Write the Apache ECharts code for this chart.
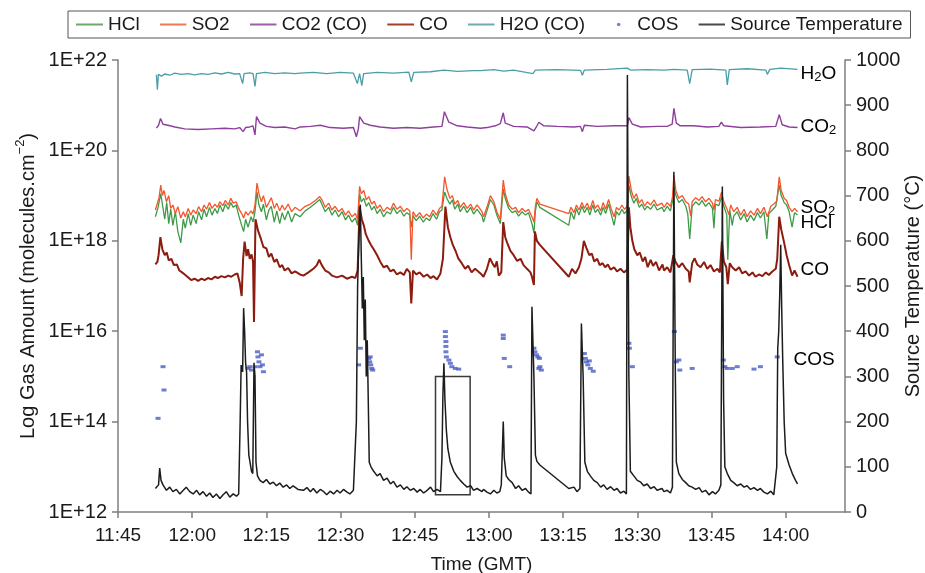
<!DOCTYPE html>
<html><head><meta charset="utf-8">
<script src="https://cdn.jsdelivr.net/npm/echarts@6/dist/echarts.min.js"></script>
<style>html,body{margin:0;padding:0;background:#fff}#c{width:925px;height:573px}</style>
</head><body><div id="c"></div>
<script>
// time = minutes after 11:45 (GMT)
const xTickLabels = ['11:45','12:00','12:15','12:30','12:45','13:00','13:15','13:30','13:45','14:00'];
const leftTickValues = [1e12, 1e14, 1e16, 1e18, 1e20, 1e22];

const h2o = [
[7.76,4.7e21],[7.96,2.2e21],[8.17,4.8e21],[8.77,4.4e21],[9.45,4.9e21],[10.46,4.6e21],[11.47,5.1e21],[12.82,4.8e21],[14.17,5.0e21],[15.5,4.7e21],[16.9,5.0e21],[18.2,4.8e21],[19.6,5.2e21],[20.9,4.9e21],[22.3,5.3e21],[23.6,4.9e21],[24.6,5.0e21],[25.2,3.0e21],[25.5,5.0e21],[26.65,5.2e21],[27.3,5.0e21],[27.7,2.6e21],[28.0,5.0e21],[29.7,5.3e21],[31.7,5.0e21],[33.7,5.2e21],[35.8,5.0e21],
[36.84,5.1e21],[39.5,5.3e21],[42.2,5.0e21],[44.9,5.3e21],[47.6,5.1e21],[48.4,3.0e21],[48.85,5.0e21],[49.3,2.7e21],[49.66,5.0e21],[52.4,5.3e21],[55.7,5.1e21],[58.8,5.4e21],[59.3,3.3e21],[59.8,5.3e21],[63.2,5.5e21],[65.9,6.0e21],[68.6,5.6e21],[71.9,5.8e21],
[73.27,5.8e21],[76.0,6.1e21],[78.0,5.7e21],[80.0,6.0e21],[83.9,5.0e21],[84.4,6.0e21],[88.8,6.1e21],[93.5,5.9e21],[93.9,4.6e21],[94.3,6.0e21],[98.9,6.2e21],[103.0,6.6e21],[103.6,6.0e21],[107.0,6.1e21],[110.4,6.0e21],
[112.4,6.2e21],[115.1,6.0e21],[115.6,3.0e21],[116.1,6.1e21],[119.8,6.3e21],[122.9,6.0e21],[123.2,2.8e21],[123.6,6.1e21],[127.2,6.4e21],[131.0,6.0e21],[131.3,4.8e21],[131.8,6.2e21],[134.0,6.6e21],[137.4,6.2e21]
];

const co2 = [
[7.76,3.1e20],[8.2,3.6e20],[8.6,5.1e20],[9.1,3.8e20],[10.1,3.6e20],[11.5,3.3e20],[13.5,3.0e20],[16.2,2.9e20],[18.9,3.0e20],[21.6,3.1e20],[23.6,3.0e20],[24.6,3.2e20],[25.3,2.6e20],[25.8,3.2e20],[26.65,3.3e20],[27.3,3.5e20],[27.7,2.2e20],[28.0,5.6e20],[28.7,4.0e20],[30.0,3.4e20],[31.7,3.2e20],[33.7,3.3e20],[35.8,3.0e20],
[36.84,3.3e20],[38.9,3.4e20],[40.9,3.6e20],[42.9,3.2e20],[45.6,3.1e20],[47.6,3.2e20],[48.2,2.0e20],[48.6,3.0e20],[48.85,5.6e20],[49.7,4.0e20],[51.0,3.6e20],[53.0,3.3e20],[55.7,3.1e20],[58.4,3.2e20],[61.1,3.1e20],[63.8,3.3e20],[65.5,3.4e20],[66.0,7.2e20],[66.9,4.2e20],[68.6,3.5e20],[70.6,3.3e20],[73.3,3.1e20],
[74.6,3.2e20],[76.3,3.5e20],[77.3,3.9e20],[77.9,6.8e20],[78.3,4.0e20],[80.0,3.4e20],[82.7,3.3e20],[84.1,2.7e20],[84.6,3.3e20],[85.1,4.2e20],[86.1,3.5e20],[88.8,3.4e20],[92.2,3.3e20],[93.5,3.4e20],[93.9,2.6e20],[94.3,3.6e20],[96.9,3.4e20],[100.3,3.5e20],[103.0,3.5e20],[103.3,5.3e20],[104.0,3.8e20],[105.7,3.3e20],[109.0,3.4e20],
[111.05,3.4e20],[112.06,3.8e20],[112.4,8.5e20],[112.9,4.0e20],[113.7,3.5e20],[116.4,3.5e20],[119.15,3.3e20],[121.5,3.4e20],[122.0,4.2e20],[122.5,3.5e20],[125.9,3.2e20],[129.9,3.3e20],[133.0,3.4e20],[133.7,6.2e20],[134.3,3.7e20],[135.7,3.3e20],[137.4,3.2e20]
];

const so2 = [
[7.56,4.8e18],[7.96,5.2e18],[8.3,9e18],[8.64,1.7e19],[8.97,1.0e19],[9.3,1.3e19],[9.8,7.3e18],[10.26,1.0e19],[10.66,5.2e18],[11.1,6.2e18],[11.6,4.0e18],[12.1,5.7e18],[12.7,3.2e18],[13.2,4.4e18],[13.6,3.4e18],[14.2,5.2e18],[14.7,3.7e18],[15.2,4.8e18],[15.8,4.0e18],[16.3,5.7e18],[16.9,4.4e18],[17.4,6.2e18],[17.9,5.0e18],[18.5,7.0e18],[19.0,5.2e18],[19.6,6.5e18],[20.1,5.5e18],[20.6,7.3e18],[21.2,6.0e18],[21.7,7.8e18],[22.3,6.2e18],[22.8,8.7e18],[23.3,6.8e18],[23.9,7.3e18],[24.4,5.2e18],[25.0,4.0e18],[25.4,3.2e18],[25.8,4.4e18],[26.3,3.7e18],[26.9,4.6e18],[27.3,3.9e18],[27.7,6.2e18],[28.1,1.9e19],[28.5,1.1e19],[29.0,7.3e18],[29.4,1.0e19],[30.0,5.5e18],[30.5,7.0e18],[31.0,9.0e18],[31.6,5.2e18],[32.1,6.8e18],[32.7,4.6e18],[33.2,6.2e18],[33.7,4.8e18],[34.4,6.5e18],[35.1,4.4e18],[35.8,5.5e18],[36.8,4.6e18],
[37.85,5.8e18],[38.9,6.5e18],[39.9,7.8e18],[40.8,9.5e18],[41.2,8.2e18],[41.9,5.5e18],[42.6,6.8e18],[43.25,4.8e18],[43.9,5.8e18],[44.6,4.4e18],[45.3,5.2e18],[46.0,3.7e18],[46.6,4.6e18],[47.3,3.4e18],[48.0,4.0e18],[48.45,3.0e18],[48.85,1.6e19],[49.2,1.1e19],[49.7,1.3e19],[50.2,8.0e18],[50.7,9.5e18],[51.3,6.5e18],[51.8,7.5e18],[52.4,5.2e18],[53.0,6.2e18],[53.7,4.4e18],[54.4,5.5e18],[55.1,4.8e18],[55.7,6.8e18],[56.4,5.0e18],[57.1,5.8e18],[57.8,4.4e18],[58.4,5.2e18],[59.0,4.6e18],[59.3,3.8e17],[59.65,4.4e18],[60.3,3.4e18],[61.0,4.2e18],[61.7,3.2e18],[62.35,3.9e18],[63.0,3.4e18],[63.7,4.8e18],[64.4,3.7e18],[65.0,5.2e18],[65.5,5.8e18],[66.05,2.6e19],[66.5,1.4e19],[67.1,8.7e18],[67.6,1.0e19],[68.1,6.5e18],[68.7,7.8e18],[69.2,5.5e18],[69.9,7.0e18],[70.6,5.2e18],[71.3,6.5e18],[71.9,4.8e18],[72.6,6.2e18],[73.6,4.4e18],
[73.9,3.4e18],[74.6,5.5e18],[75.3,1.0e19],[76.0,7.3e18],[76.6,4.4e18],[77.3,3.0e18],[77.9,2.2e19],[78.3,1.1e19],[79.0,6.2e18],[79.7,5.0e18],[80.4,5.5e18],[81.0,4.2e18],[81.7,5.2e18],[82.4,4.4e18],[83.0,5.0e18],[83.7,3.4e18],[84.1,2.6e18],[84.4,5.8e18],[84.7,8.7e18],[85.3,6.5e18],[91.15,4.0e18],[91.6,5.5e18],[92.2,4.2e18],[92.7,6.2e18],[93.2,4.8e18],[93.8,7.0e18],[94.3,5.2e18],[94.9,6.8e18],[95.4,4.8e18],[96.0,7.8e18],[96.5,5.2e18],[97.0,6.2e18],[97.6,4.6e18],[98.1,7.0e18],[98.6,5.0e18],[99.2,8.2e18],[99.7,5.2e18],[100.3,3.4e18],[100.8,5.5e18],[101.3,4.8e18],[101.9,6.2e18],[102.4,5.0e18],[103.0,5.8e18],[103.3,2.7e19],[103.8,1.3e19],[104.3,8.7e18],[104.8,1.1e19],[105.4,6.8e18],[105.9,8.2e18],[106.5,5.8e18],[107.0,7.3e18],[107.7,6.2e18],[108.4,8.0e18],[109.0,6.0e18],[110.0,6.8e18],
[110.4,5.5e18],[111.05,7.0e18],[111.7,5.8e18],[112.1,9.0e18],[112.4,2.8e19],[112.8,1.3e19],[113.4,8.7e18],[114.1,1.0e19],[114.8,7.3e18],[115.4,6.5e18],[115.8,3.5e18],[116.1,7.3e18],[116.8,9.0e18],[117.5,7.8e18],[118.1,9.5e18],[118.8,7.3e18],[119.5,8.7e18],[120.2,6.8e18],[120.5,4.8e18],[120.8,8.2e18],[121.5,7.5e18],[122.05,1.2e19],[122.5,7.3e18],[123.1,5.2e18],[123.5,3.8e18],[123.9,6.2e18],[124.5,4.4e18],[125.2,5.5e18],[125.9,3.7e18],[126.6,5.0e18],[127.2,3.4e18],[127.9,4.6e18],[128.6,3.7e18],[129.3,5.2e18],[129.9,4.0e18],[130.6,5.5e18],[131.3,3.4e18],[132.0,5.8e18],[132.6,6.5e18],[133.2,7.5e18],[133.7,2.6e19],[134.1,1.3e19],[134.7,8.7e18],[135.2,7.8e18],[135.7,5.5e18],[136.3,4.4e18],[136.8,5.2e18],[137.4,4.4e18]
];

const hcl = [
[7.56,3.4e18],[8.1,5.5e18],[8.64,1.1e19],[9.0,6.2e18],[9.45,3.0e18],[9.85,7.0e18],[10.26,2.4e18],[10.66,5.0e18],[11.1,2.2e18],[11.6,4.4e18],[12.1,1.6e18],[12.7,9e17],[13.2,3.0e18],[13.6,1.9e18],[14.2,4.0e18],[14.7,2.2e18],[15.2,3.7e18],[15.8,2.4e18],[16.3,4.4e18],[16.9,2.9e18],[17.4,5.0e18],[17.9,3.4e18],[18.5,5.5e18],[19.0,3.7e18],[19.6,5.2e18],[20.1,4.0e18],[20.6,6.2e18],[21.2,4.4e18],[21.7,6.5e18],[22.3,5.0e18],[22.8,7.0e18],[23.3,5.5e18],[23.9,6.2e18],[24.4,3.7e18],[25.0,2.2e18],[25.4,1.6e18],[25.8,3.0e18],[26.3,2.0e18],[26.9,3.4e18],[27.3,2.6e18],[27.7,4.4e18],[28.1,1.2e19],[28.5,6.2e18],[29.0,4.4e18],[29.4,6.5e18],[30.0,2.9e18],[30.5,4.8e18],[31.0,5.8e18],[31.6,2.6e18],[32.1,4.6e18],[32.7,2.4e18],[33.2,4.2e18],[33.7,2.9e18],[34.4,4.6e18],[35.1,2.6e18],[35.8,4.0e18],[36.8,3.4e18],
[37.85,4.6e18],[38.9,5.5e18],[39.9,6.8e18],[40.8,8.2e18],[41.2,6.5e18],[41.9,4.4e18],[42.6,5.5e18],[43.25,3.7e18],[43.9,4.8e18],[44.6,3.4e18],[45.3,4.4e18],[46.0,2.9e18],[46.6,3.7e18],[47.3,2.6e18],[48.0,3.2e18],[48.45,2.2e18],[48.85,1.1e19],[49.2,7.3e18],[49.7,8.7e18],[50.2,5.8e18],[50.7,7.0e18],[51.3,4.8e18],[51.8,5.8e18],[52.4,4.0e18],[53.0,5.0e18],[53.7,3.4e18],[54.4,4.4e18],[55.1,3.9e18],[55.7,5.5e18],[56.4,4.0e18],[57.1,4.8e18],[57.8,3.5e18],[58.4,4.2e18],[59.0,3.7e18],[59.3,2.0e18],[59.65,3.6e18],[60.3,2.8e18],[61.0,3.5e18],[61.7,2.6e18],[62.35,3.2e18],[63.0,2.8e18],[63.7,4.0e18],[64.4,3.0e18],[65.0,4.4e18],[65.5,4.8e18],[66.05,1.2e19],[66.5,8.7e18],[67.1,6.5e18],[67.6,8.0e18],[68.1,5.0e18],[68.7,6.5e18],[69.2,4.4e18],[69.9,5.8e18],[70.6,4.2e18],[71.3,5.5e18],[71.9,3.9e18],[72.6,5.0e18],[73.6,3.5e18],
[73.9,2.6e18],[74.6,4.6e18],[75.3,8.2e18],[76.0,6.2e18],[76.6,3.7e18],[77.3,2.4e18],[77.9,1.4e19],[78.3,8.7e18],[79.0,5.2e18],[79.7,4.2e18],[80.4,4.6e18],[81.0,3.5e18],[81.7,4.4e18],[82.4,3.7e18],[83.0,4.2e18],[83.7,2.4e18],[84.1,1.5e18],[84.4,4.6e18],[84.7,7.3e18],[85.3,5.5e18],[91.15,2.2e18],[91.6,4.4e18],[92.2,3.0e18],[92.7,5.2e18],[93.2,3.7e18],[93.8,5.8e18],[94.3,4.2e18],[94.9,5.5e18],[95.4,3.7e18],[96.0,6.2e18],[96.5,4.2e18],[97.0,5.0e18],[97.6,3.7e18],[98.1,5.5e18],[98.6,4.0e18],[99.2,6.5e18],[99.7,4.0e18],[100.3,2.2e18],[100.8,4.4e18],[101.3,3.7e18],[101.9,5.0e18],[102.4,4.0e18],[103.0,4.8e18],[103.3,1.7e19],[103.8,9.5e18],[104.3,6.8e18],[104.8,8.7e18],[105.4,5.5e18],[105.9,6.5e18],[106.5,4.8e18],[107.0,5.8e18],[107.7,5.0e18],[108.4,6.5e18],[109.0,4.8e18],[110.0,5.5e18],
[110.4,4.4e18],[111.05,5.8e18],[111.7,4.6e18],[112.1,7.3e18],[112.4,1.6e19],[112.8,1.0e19],[113.4,7.0e18],[114.1,8.2e18],[114.8,5.8e18],[115.2,4.0e18],[115.6,1.1e18],[116.1,5.8e18],[116.8,7.3e18],[117.5,6.2e18],[118.1,7.8e18],[118.8,5.8e18],[119.5,7.0e18],[120.2,5.2e18],[120.5,1.9e18],[120.8,6.5e18],[121.5,6.0e18],[122.05,9.5e18],[122.5,5.8e18],[123.1,3.7e18],[123.3,3.8e17],[123.7,4.8e18],[124.2,2.2e18],[124.5,3.5e18],[125.2,4.4e18],[125.9,2.9e18],[126.6,4.0e18],[127.2,2.6e18],[127.9,3.7e18],[128.6,2.8e18],[129.3,4.2e18],[129.9,3.2e18],[130.6,4.4e18],[131.2,1.1e18],[131.6,4.0e18],[132.3,4.8e18],[133.0,5.8e18],[133.7,1.7e19],[134.1,1.0e19],[134.7,7.0e18],[135.2,6.2e18],[135.7,4.4e18],[136.3,2.0e18],[136.8,4.2e18],[137.4,3.7e18]
];

const co = [
[7.56,3.0e17],[7.96,3.4e17],[8.2,4.8e17],[8.57,1.2e18],[8.97,6.5e17],[9.45,4.8e17],[9.85,5.5e17],[10.26,3.7e17],[10.8,4.0e17],[11.3,2.9e17],[11.9,3.0e17],[12.4,2.2e17],[12.95,2.0e17],[13.5,1.8e17],[14.2,1.55e17],[14.8,1.35e17],[15.5,1.45e17],[16.2,1.3e17],[16.9,1.45e17],[17.5,1.35e17],[18.2,1.5e17],[18.9,1.4e17],[19.6,1.6e17],[20.2,1.5e17],[20.9,1.65e17],[21.6,1.55e17],[22.3,1.7e17],[22.9,1.6e17],[23.6,1.8e17],[24.15,1.9e17],[24.6,1.2e17],[25.0,6.0e16],[25.3,4.0e17],[25.6,9.6e17],[26.0,4.6e17],[26.3,6.5e17],[26.65,4.0e17],[27.0,5.0e17],[27.3,3.5e17],[27.5,1.6e16],[27.8,3.0e18],[28.3,1.7e18],[28.9,1.1e18],[29.4,7.3e17],[30.0,6.8e17],[30.5,4.4e17],[31.0,5.2e17],[31.6,3.4e17],[32.1,3.9e17],[32.7,2.6e17],[33.2,2.9e17],[33.7,2.2e17],[34.4,2.5e17],[35.1,1.9e17],[35.8,2.1e17],[36.8,1.8e17],
[37.5,1.7e17],[38.5,2.0e17],[39.5,2.4e17],[40.2,2.9e17],[40.7,3.8e17],[41.2,2.9e17],[41.9,2.2e17],[42.6,2.0e17],[43.25,1.7e17],[44.3,1.55e17],[45.3,1.7e17],[46.3,1.45e17],[47.3,1.6e17],[48.0,1.5e17],[48.45,2.2e17],[48.85,5.7e18],[49.3,3.0e18],[49.7,2.2e18],[50.1,1.4e18],[50.7,1.0e18],[51.15,8.1e17],[51.7,6.5e17],[52.4,4.8e17],[53.0,3.5e17],[53.7,2.6e17],[54.4,2.8e17],[55.1,2.1e17],[55.7,2.3e17],[56.4,1.8e17],[57.1,2.0e17],[57.8,1.75e17],[58.4,2.4e17],[59.0,2.0e17],[59.3,4.1e16],[59.65,2.2e17],[60.3,1.8e17],[61.0,2.0e17],[61.8,1.6e17],[62.5,1.8e17],[63.2,1.5e17],[63.8,1.65e17],[64.5,1.4e17],[65.2,1.9e17],[65.7,4.0e17],[66.2,5.7e18],[66.7,2.0e18],[67.2,1.2e18],[67.7,8.1e17],[68.3,5.8e17],[68.8,4.1e17],[69.5,3.2e17],[70.2,2.4e17],[70.8,2.8e17],[71.5,2.0e17],[72.2,2.4e17],[73.3,1.9e17],
[73.9,1.6e17],[74.6,2.4e17],[75.2,4.1e17],[75.7,3.2e17],[76.2,2.6e17],[76.6,3.5e17],[77.0,1.7e17],[77.5,2.0e17],[77.9,2.6e18],[78.3,1.2e18],[78.7,9.0e17],[79.35,6.0e17],[80.0,4.8e17],[80.7,3.6e17],[81.4,4.0e17],[82.0,2.9e17],[82.7,2.4e17],[83.4,2.0e17],[83.7,1.6e17],[84.1,1.05e17],[84.3,1.6e18],[84.7,1.0e18],[85.3,8.1e17],[91.15,1.6e17],[91.35,1.5e17],[91.8,2.4e17],[92.5,1.9e17],[93.2,2.6e17],[93.7,4.0e17],[94.2,1.0e18],[94.7,7.0e17],[95.3,4.8e17],[95.8,5.2e17],[96.3,3.5e17],[96.9,4.0e17],[97.4,2.9e17],[98.0,3.2e17],[98.5,2.6e17],[99.05,3.0e17],[99.6,2.3e17],[100.3,2.6e17],[100.9,2.1e17],[101.6,2.4e17],[102.3,2.0e17],[103.0,2.3e17],[103.3,5.5e18],[103.6,2.0e18],[104.0,1.0e18],[104.4,6.5e17],[105.0,4.8e17],[105.5,5.5e17],[106.1,3.5e17],[106.6,4.4e17],[107.1,2.6e17],[107.7,3.8e17],[108.2,2.8e17],[108.8,3.4e17],[109.4,2.2e17],[110.1,3.0e17],
[110.4,2.2e17],[111.05,2.6e17],[111.7,2.0e17],[112.3,4.8e17],[112.7,3.5e17],[113.4,2.6e17],[114.1,3.2e17],[114.8,2.4e17],[115.4,2.1e17],[115.6,1.2e17],[116.1,3.2e17],[116.6,4.1e17],[117.1,3.0e17],[117.8,2.6e17],[118.5,3.4e17],[119.15,2.4e17],[119.8,2.9e17],[120.5,2.1e17],[121.2,2.4e17],[121.7,2.0e17],[122.1,9.6e17],[122.5,3.5e17],[123.0,2.6e17],[123.3,1.1e17],[123.7,3.2e17],[124.2,2.6e17],[124.9,2.2e17],[125.6,2.6e17],[126.2,1.9e17],[126.9,2.1e17],[127.6,1.7e17],[128.3,2.0e17],[128.9,1.6e17],[129.6,1.8e17],[130.3,1.65e17],[131.0,2.0e17],[131.6,1.75e17],[132.3,2.1e17],[133.0,2.4e17],[133.3,4.0e17],[133.7,3.4e18],[134.1,1.8e18],[134.7,9.0e17],[135.2,4.8e17],[135.7,2.9e17],[136.3,1.7e17],[136.8,2.2e17],[137.4,1.6e17]
];

const temperature = [
[7.56,52],[7.96,48],[8.2,60],[8.43,97],[8.7,70],[9.1,60],[9.8,48],[10.46,55],[11.1,45],[11.8,50],[12.5,40],[13.2,48],[13.8,55],[14.5,45],[15.2,40],[15.9,48],[16.5,38],[17.2,45],[17.9,35],[18.55,42],[19.2,32],[19.9,40],[20.6,30],[21.25,38],[21.9,45],[22.6,33],[23.3,40],[23.95,35],[24.4,40],[24.7,200],[24.9,325],[25.2,310],[25.4,451],[25.6,400],[25.8,330],[26.0,310],[26.2,200],[26.45,126],[26.7,110],[27.0,90],[27.25,85],[27.5,330],[27.7,300],[27.9,110],[28.2,80],[28.7,70],[29.35,65],[30.0,72],[30.7,62],[31.4,66],[32.05,58],[32.7,64],[33.4,55],[34.1,60],[34.75,52],[35.4,58],[36.4,50],
[37.5,48],[38.2,54],[38.9,45],[39.5,52],[40.2,42],[40.9,50],[41.6,45],[42.2,38],[42.9,46],[43.6,40],[44.3,48],[44.9,42],[45.6,50],[46.3,44],[46.9,40],[47.6,48],[48.0,45],[48.2,200],[48.45,500],[48.7,600],[49.0,680],[49.2,560],[49.4,450],[49.6,520],[49.8,380],[50.0,470],[50.2,300],[50.4,380],[50.6,250],[50.8,110],[51.15,100],[51.7,90],[52.4,80],[53.0,85],[53.7,70],[54.4,75],[55.1,62],[55.7,68],[56.4,55],[57.1,60],[57.8,50],[58.4,56],[59.1,48],[59.8,52],[60.5,44],[61.1,50],[61.8,42],[62.5,48],[63.2,55],[63.8,45],[64.5,50],[65.2,45],[65.5,120],[65.7,260],[65.9,329],[66.1,250],[66.4,180],[66.7,140],[67.2,110],[67.9,90],[68.6,78],[69.2,70],[69.9,62],[70.6,55],[71.3,58],[71.9,48],[72.6,52],[73.6,45],
[73.9,50],[74.6,44],[75.3,40],[76.0,48],[76.6,42],[77.2,45],[77.5,60],[77.9,200],[78.1,120],[78.5,80],[79.0,72],[79.7,65],[80.4,52],[81.0,58],[81.7,48],[82.4,52],[83.0,44],[83.5,40],[83.7,454],[84.1,300],[84.4,126],[84.7,112],[85.3,104],[91.15,52],[91.5,48],[92.2,55],[92.8,45],[93.4,52],[93.7,417],[94.05,300],[94.4,110],[94.9,90],[95.5,80],[96.2,70],[96.9,65],[97.6,55],[98.2,60],[98.9,50],[99.6,56],[100.3,48],[100.9,52],[101.6,42],[102.3,46],[102.8,40],[103.0,967],[103.3,300],[103.6,90],[104.3,80],[105.0,70],[105.7,66],[106.3,58],[107.0,62],[107.7,52],[108.4,56],[109.0,48],[110.0,52],
[110.4,45],[111.05,48],[111.7,42],[112.1,55],[112.4,753],[112.7,300],[112.9,110],[113.4,85],[114.1,72],[114.8,65],[115.4,58],[116.1,55],[116.8,50],[117.5,54],[118.1,44],[118.8,48],[119.5,38],[120.2,45],[120.8,40],[121.5,48],[121.9,60],[122.2,720],[122.45,250],[122.7,100],[123.2,85],[123.9,70],[124.5,65],[125.2,58],[125.9,62],[126.6,55],[127.2,58],[127.9,50],[128.6,54],[129.3,48],[129.9,52],[130.6,44],[131.3,40],[132.0,46],[132.6,38],[133.0,35],[133.2,100],[133.4,362],[133.6,400],[133.8,480],[134.0,591],[134.2,450],[134.4,340],[134.7,200],[135.0,130],[135.7,104],[136.35,85],[137.0,70],[137.4,62]
];

const cos = [
[8.1,1.18e14],[9.1,1.64e15],[9.3,5.0e14],
[26.3,1.5e15],[26.65,1.64e15],[27.0,1.38e15],[27.7,1.64e15],[28.2,3.5e15],[28.3,2.7e15],[28.5,2.1e15],[28.7,1.64e15],[29.0,3.0e15],[29.2,1.8e15],[29.4,1.27e15],
[48.65,1.8e15],[49.0,4.2e15],[50.7,2.5e15],[50.9,2.1e15],[51.0,2.7e15],[51.1,1.8e15],[51.3,1.5e15],[51.5,1.38e15],
[66.2,9.8e15],[66.2,7.6e15],[66.3,5.9e15],[66.3,4.6e15],[66.3,3.5e15],[66.4,2.7e15],[66.9,2.3e15],[67.2,1.95e15],[67.5,1.64e15],[68.2,1.5e15],[68.9,1.45e15],
[77.9,8.2e15],[77.9,6.9e15],[78.1,2.5e15],[79.2,1.64e15],
[84.1,4.2e15],[84.3,3.5e15],[84.6,3.0e15],[84.9,2.7e15],[85.2,2.5e15],[85.1,1.5e15],[85.3,1.64e15],[85.6,1.38e15],
[94.3,3.2e15],[94.5,2.5e15],[94.7,2.1e15],[95.0,1.8e15],[95.3,2.2e15],[95.5,1.5e15],[96.1,1.3e15],
[103.3,5.4e15],[103.4,4.2e15],[104.0,1.64e15],
[112.5,9.8e15],[112.9,2.1e15],[113.4,2.3e15],[113.6,1.38e15],[116.1,1.5e15],
[122.4,2.3e15],[122.7,1.64e15],[123.2,1.5e15],[124.2,1.5e15],[125.2,1.64e15],[128.6,1.45e15],[129.9,1.64e15],[133.3,2.7e15]
];

// highlighted region (box) on the temperature axis
const boxTimes = [64.2, 71.2];
const boxTemps = [38, 300];

// right-side species labels: [rich text, time, gas amount]
const speciesLabels = [
  ['{n|H}{s|2}{n|O}', 138.0, 4.9e21],
  ['{n|CO}{s|2}', 138.0, 3.3e20],
  ['{n|SO}{s|2}', 138.0, 5.3e18],
  ['{n|HCl}', 138.0, 2.5e18],
  ['{n|CO}', 138.0, 2.3e17],
  ['{n|COS}', 136.6, 2.3e15]
];

const FONT = '"Liberation Sans", Arial, Helvetica, sans-serif';
const AXIS_COLOR = '#7f7f7f';
const TEXT_COLOR = '#1a1a1a';
function svgIcon(inner) {
  return 'image://data:image/svg+xml;utf8,' + encodeURIComponent('<svg xmlns="http://www.w3.org/2000/svg" width="27" height="14">' + inner + '</svg>');
}
function lineIcon(color) { return svgIcon('<rect x="0" y="6" width="27" height="2" fill="' + color + '"/>'); }
const dotIcon = svgIcon('<circle cx="13.5" cy="7" r="1.8" fill="#5565c4"/>');

const chart = echarts.init(document.getElementById('c'), null, {renderer: 'canvas'});
function lineSeries(name, data, color, width, yIdx) {
  return {
    name, type: 'line', data, yAxisIndex: yIdx || 0, symbol: 'none', showSymbol: false,
    color, lineStyle: {color, width}, itemStyle: {color}, animation: false, silent: true
  };
}
const option = {
  animation: false,
  backgroundColor: '#ffffff',
  textStyle: {fontFamily: FONT},
  grid: {left: 118, right: 80, top: 60, bottom: 61, containLabel: false, outerBoundsMode: 'none'},
  legend: {
    left: 68, top: 11, padding: [4, 8], itemGap: 20, itemWidth: 27, itemHeight: 14,
    borderColor: '#555', borderWidth: 1, backgroundColor: '#fff',
    textStyle: {fontFamily: FONT, fontSize: 19, color: TEXT_COLOR},
    data: [
      {name: 'HCl', icon: lineIcon('#6ea86c')},
      {name: 'SO2', icon: lineIcon('#f07a55')},
      {name: 'CO2 (CO)', icon: lineIcon('#9a5fa8')},
      {name: 'CO', icon: lineIcon('#a43e28')},
      {name: 'H2O (CO)', icon: lineIcon('#70aab2')},
      {name: 'COS', icon: dotIcon},
      {name: 'Source Temperature', icon: lineIcon('#4a4a4a')}
    ]
  },
  xAxis: {
    type: 'value', min: 0, max: 147, interval: 15,
    name: 'Time (GMT)', nameLocation: 'middle', nameGap: 43, nameMoveOverlap: false,
    nameTextStyle: {fontFamily: FONT, fontSize: 19, color: TEXT_COLOR},
    axisLine: {show: true, lineStyle: {color: AXIS_COLOR, width: 1.5}},
    axisTick: {show: true, length: 6, lineStyle: {color: AXIS_COLOR, width: 1.5}},
    splitLine: {show: false},
    axisLabel: {fontFamily: FONT, fontSize: 19, color: TEXT_COLOR, margin: 14, showMaxLabel: false,
      formatter: v => { const i = Math.round(v / 15); return (Math.abs(v - i * 15) < 1e-6 && xTickLabels[i]) ? xTickLabels[i] : ''; }}
  },
  yAxis: [{
    type: 'log', logBase: 10, min: leftTickValues[0], max: leftTickValues[leftTickValues.length - 1], interval: 2,
    name: '{n|Log Gas Amount (molecules.cm}{s|−2}{n|)}', nameLocation: 'middle', nameGap: 80, nameRotate: 90, nameMoveOverlap: false,
    nameTextStyle: {rich: {
      n: {fontFamily: FONT, fontSize: 20, color: TEXT_COLOR, lineHeight: 24, verticalAlign: 'bottom'},
      s: {fontFamily: FONT, fontSize: 13, color: TEXT_COLOR, lineHeight: 13, verticalAlign: 'top'}
    }},
    axisLine: {show: true, lineStyle: {color: AXIS_COLOR, width: 1.5}},
    axisTick: {show: true, length: 6, lineStyle: {color: AXIS_COLOR, width: 1.5}},
    minorTick: {show: false}, splitLine: {show: false}, minorSplitLine: {show: false},
    axisLabel: {fontFamily: FONT, fontSize: 20, color: TEXT_COLOR, margin: 11,
      formatter: v => '1E+' + Math.round(Math.log10(v))}
  }, {
    type: 'value', min: 0, max: 1000, interval: 100, position: 'right',
    name: 'Source Temperature (°C)', nameLocation: 'middle', nameGap: 58, nameRotate: 90, nameMoveOverlap: false,
    nameTextStyle: {fontFamily: FONT, fontSize: 20, color: TEXT_COLOR},
    axisLine: {show: true, lineStyle: {color: AXIS_COLOR, width: 1.5}},
    axisTick: {show: true, length: 6, lineStyle: {color: AXIS_COLOR, width: 1.5}},
    splitLine: {show: false},
    axisLabel: {fontFamily: FONT, fontSize: 20, color: TEXT_COLOR, margin: 11, formatter: v => String(v)}
  }],
  series: [
    lineSeries('HCl', hcl, '#3f9a47', 1.3),
    lineSeries('SO2', so2, '#f4562c', 1.3),
    lineSeries('CO2 (CO)', co2, '#8d3f9c', 1.4),
    lineSeries('CO', co, '#8b1c0f', 2),
    lineSeries('H2O (CO)', h2o, '#4a9ea6', 1.3),
    {name: 'COS', type: 'scatter', data: cos, yAxisIndex: 0, symbol: 'rect', symbolSize: [5, 3],
     color: '#4a5cc4', itemStyle: {color: '#4a5cc4'}, silent: true},
    Object.assign(lineSeries('Source Temperature', temperature, '#1c1c1c', 1.5, 1), {
      markArea: {silent: true, itemStyle: {color: 'rgba(0,0,0,0)', borderColor: '#3a3a3a', borderWidth: 1.5},
        data: [[{coord: [boxTimes[0], boxTemps[1]]}, {coord: [boxTimes[1], boxTemps[0]]}]]}
    })
  ]
};
chart.setOption(option);

const richLbl = {
  n: {fontFamily: FONT, fontSize: 19, color: TEXT_COLOR, lineHeight: 19, verticalAlign: 'top'},
  s: {fontFamily: FONT, fontSize: 13, color: TEXT_COLOR, lineHeight: 13, verticalAlign: 'bottom', padding: [8, 0, 0, 0]}
};
const graphics = speciesLabels.map(([txt, t, v]) => {
  const p = chart.convertToPixel({xAxisIndex: 0, yAxisIndex: 0}, [t, v]);
  return {type: 'text', x: p[0], y: p[1], silent: true,
    style: {text: txt, rich: richLbl, align: 'left', verticalAlign: 'middle'}};
});
chart.setOption({graphic: graphics});
</script></body></html>
